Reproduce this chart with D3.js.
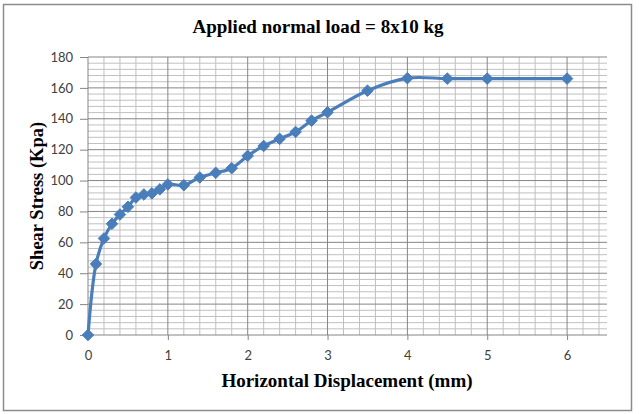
<!DOCTYPE html>
<html>
<head>
<meta charset="utf-8">
<script src="https://cdn.jsdelivr.net/npm/d3@7/dist/d3.min.js"></script>
<style>
  html, body { margin: 0; padding: 0; background: #fff; }
  svg { display: block; }
  .tick-label { font-family: Lato, "Open Sans", sans-serif; font-size: 13px; fill: #404040; }
  .title, .axis-title { font-family: "Liberation Serif", "Times New Roman", serif; font-weight: bold; fill: #000; }
</style>
</head>
<body>
<svg id="chart" width="639" height="414"></svg>
<script>
// displacement (mm) and shear stress (kPa)
const displacement = [0, 0.1, 0.2, 0.3, 0.4, 0.5, 0.6, 0.7, 0.8, 0.9, 1.0,
                      1.2, 1.4, 1.6, 1.8, 2.0, 2.2, 2.4, 2.6, 2.8, 3.0,
                      3.5, 4.0, 4.5, 5.0, 6.0];
const shearStress  = [0, 46, 62.5, 72, 78, 83, 89, 91, 91.7, 94.3, 97.5,
                      97, 102, 105, 108, 116, 122.4, 127, 131.5, 138.8, 144.2,
                      158.2, 166.3, 166, 166, 166];
const xTicks = [0, 1, 2, 3, 4, 5, 6];
const yTicks = [0, 20, 40, 60, 80, 100, 120, 140, 160, 180];

const svg = d3.select('#chart');
const plot = {left: 88, right: 607, top: 57, bottom: 335};

const x = d3.scaleLinear().domain([0, 6.5]).range([plot.left, plot.right]);
const y = d3.scaleLinear().domain([0, 180]).range([plot.bottom, plot.top]);

// chart frame
svg.append('rect')
    .attr('x', 3.5).attr('y', 4.5)
    .attr('width', 628).attr('height', 406)
    .attr('fill', '#fff').attr('stroke', '#8c8c8c').attr('stroke-width', 1.5);

// minor grid
const grid = svg.append('g');
grid.selectAll('line.vminor')
    .data(d3.range(1, 33).map(i => i * 0.2).filter(v => Math.abs(v - Math.round(v)) > 1e-6))
    .join('line')
    .attr('x1', d => x(d)).attr('x2', d => x(d))
    .attr('y1', plot.top).attr('y2', plot.bottom)
    .attr('stroke', '#c0c0c0').attr('stroke-width', 1);
grid.selectAll('line.hminor')
    .data(d3.range(1, 45).map(i => i * 4).filter(v => v % 20 !== 0))
    .join('line')
    .attr('x1', plot.left).attr('x2', plot.right)
    .attr('y1', d => y(d)).attr('y2', d => y(d))
    .attr('stroke', '#c0c0c0').attr('stroke-width', 1);

// major grid
grid.selectAll('line.vmajor')
    .data(xTicks)
    .join('line')
    .attr('x1', d => x(d)).attr('x2', d => x(d))
    .attr('y1', plot.top).attr('y2', plot.bottom)
    .attr('stroke', '#858585').attr('stroke-width', 1);
grid.selectAll('line.hmajor')
    .data(yTicks)
    .join('line')
    .attr('x1', plot.left).attr('x2', plot.right)
    .attr('y1', d => y(d)).attr('y2', d => y(d))
    .attr('stroke', '#858585').attr('stroke-width', 1);

// axes: tick marks and labels
const styleAxis = g => {
  g.select('.domain').remove();
  g.selectAll('.tick line').attr('stroke', '#858585');
  g.selectAll('.tick text').attr('class', 'tick-label');
  g.attr('font-family', null).attr('font-size', null);
};

svg.append('g')
    .attr('transform', `translate(${plot.left},0)`)
    .call(d3.axisLeft(y).tickValues(yTicks).tickFormat(d3.format('d')).tickSize(8).tickPadding(7))
    .call(styleAxis);

svg.append('g')
    .attr('transform', `translate(0,${plot.bottom})`)
    .call(d3.axisBottom(x).tickValues(xTicks).tickFormat(d3.format('d')).tickSize(5).tickPadding(11))
    .call(styleAxis);

// series
const points = displacement.map((d, i) => [d, shearStress[i]]);
const line = d3.line()
    .x(d => x(d[0])).y(d => y(d[1]))
    .curve(d3.curveCatmullRom.alpha(0.5));

svg.append('path')
    .datum(points)
    .attr('d', line)
    .attr('fill', 'none')
    .attr('stroke', '#4a7ebb')
    .attr('stroke-width', 3.2)
    .attr('stroke-linejoin', 'round');

svg.append('g').selectAll('path')
    .data(points)
    .join('path')
    .attr('transform', d => `translate(${x(d[0])},${y(d[1])})`)
    .attr('d', d3.symbol().type(d3.symbolDiamond2).size(85))
    .attr('fill', '#4a7ebb')
    .attr('stroke', '#4a7ebb')
    .attr('stroke-width', 1);

// titles
svg.append('text')
    .attr('class', 'title')
    .attr('x', 318).attr('y', 33)
    .attr('text-anchor', 'middle')
    .attr('font-size', 19)
    .text('Applied normal load = 8x10 kg');

svg.append('text')
    .attr('class', 'axis-title')
    .attr('x', 347).attr('y', 387)
    .attr('text-anchor', 'middle')
    .attr('font-size', 19)
    .text('Horizontal Displacement (mm)');

svg.append('text')
    .attr('class', 'axis-title')
    .attr('transform', 'translate(43,196) rotate(-90)')
    .attr('text-anchor', 'middle')
    .attr('font-size', 18.5)
    .text('Shear Stress (Kpa)');
</script>
</body>
</html>
